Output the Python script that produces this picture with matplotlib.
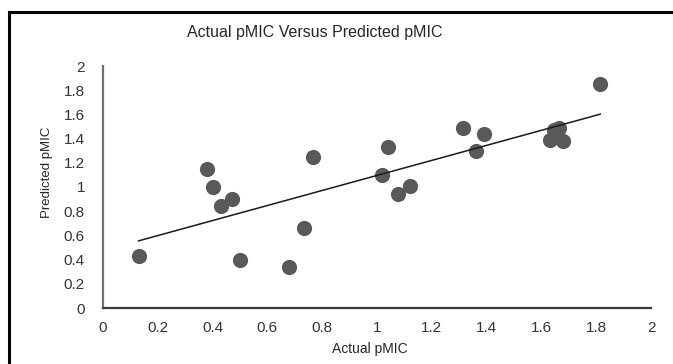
"""Actual vs predicted pMIC scatter with linear trend line"""
import numpy as np
import matplotlib
matplotlib.use("Agg")
import matplotlib.pyplot as plt
from matplotlib.lines import Line2D

plt.rcParams['font.family'] = ['Liberation Sans', 'DejaVu Sans']

# values
actual = [0.13, 0.38, 0.40, 0.43, 0.47, 0.50, 0.68, 0.735, 0.765, 1.04, 1.02,
          1.075, 1.12, 1.315, 1.39, 1.36, 1.63, 1.645, 1.665, 1.68, 1.815]
predicted = [0.43, 1.15, 1.00, 0.84, 0.90, 0.40, 0.34, 0.66, 1.25, 1.33, 1.10,
             0.945, 1.01, 1.49, 1.435, 1.30, 1.39, 1.47, 1.49, 1.38, 1.85]
ticks = [0, 0.2, 0.4, 0.6, 0.8, 1, 1.2, 1.4, 1.6, 1.8, 2]
tick_labels = ['0', '0.2', '0.4', '0.6', '0.8', '1', '1.2', '1.4', '1.6', '1.8', '2']

W, H = 673, 364
fig = plt.figure(figsize=(W / 100, H / 100), dpi=100)
ax = fig.add_axes([103 / W, 1 - 308 / H, 548 / W, 242 / H])

ax.scatter(actual, predicted, s=120, color='#595959', zorder=3, linewidths=0)

# linear trend line over the data range
x = np.array(actual)
slope, icpt = np.polyfit(x, np.array(predicted), 1)
xs = np.array([x.min(), x.max()])
ax.plot(xs, slope * xs + icpt, color='#1a1a1a', lw=1.1, zorder=4)

ax.set_xlim(0, 2)
ax.set_ylim(0, 2)
ax.set_xticks(ticks)
ax.set_xticklabels(tick_labels)
ax.set_yticks(ticks)
ax.set_yticklabels(tick_labels)
ax.tick_params(length=0, labelsize=11, colors='#333333')
ax.tick_params(axis='x', pad=9)
ax.tick_params(axis='y', pad=13)

for side in ('top', 'right'):
    ax.spines[side].set_visible(False)
ax.spines['left'].set_color('#707070')
ax.spines['bottom'].set_color('#3a3a3a')
ax.spines['left'].set_linewidth(1.6)
ax.spines['bottom'].set_linewidth(1.6)

ax.set_xlabel('Actual pMIC', fontsize=10, color='#262626')
ax.xaxis.set_label_coords(0.487, -0.14)
ax.set_ylabel('Predicted pMIC', fontsize=9.5, color='#262626')
ax.yaxis.set_label_coords(-0.092, 0.56)

fig.text(315 / W, 1 - 33 / H, 'Actual pMIC Versus Predicted pMIC',
         ha='center', va='center', fontsize=11.5, color='#262626')

# outer frame (top and left edges visible in the crop)
fig.add_artist(Line2D([9 / W, 9 / W], [0, 1 - 12 / H], transform=fig.transFigure,
                      color='black', lw=2.2))
fig.add_artist(Line2D([9 / W, 1], [1 - 12 / H, 1 - 12 / H], transform=fig.transFigure,
                      color='black', lw=2.2))

fig.savefig('out.png', dpi=100)
